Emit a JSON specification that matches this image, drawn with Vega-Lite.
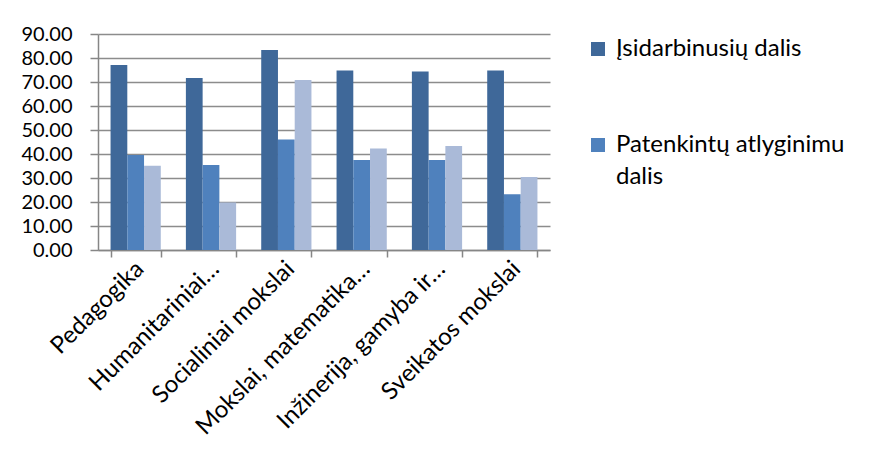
{
  "$schema": "https://vega.github.io/schema/vega-lite/v6.json",
  "width": 452,
  "height": 216,
  "autosize": {"type": "none"},
  "padding": {"left": 98, "top": 34, "right": 331, "bottom": 224},
  "background": "white",
  "data": {
    "values": [
      {"kategorija": "Pedagogika", "serija": "Įsidarbinusių dalis", "reiksme": 77.1},
      {"kategorija": "Pedagogika", "serija": "Patenkintų atlyginimu dalis", "reiksme": 39.6},
      {"kategorija": "Pedagogika", "serija": "Dirbančių pagal specialybę dalis", "reiksme": 35.1},
      {"kategorija": "Humanitariniai…", "serija": "Įsidarbinusių dalis", "reiksme": 71.7},
      {"kategorija": "Humanitariniai…", "serija": "Patenkintų atlyginimu dalis", "reiksme": 35.4},
      {"kategorija": "Humanitariniai…", "serija": "Dirbančių pagal specialybę dalis", "reiksme": 19.8},
      {"kategorija": "Socialiniai mokslai", "serija": "Įsidarbinusių dalis", "reiksme": 83.3},
      {"kategorija": "Socialiniai mokslai", "serija": "Patenkintų atlyginimu dalis", "reiksme": 46.0},
      {"kategorija": "Socialiniai mokslai", "serija": "Dirbančių pagal specialybę dalis", "reiksme": 70.8},
      {"kategorija": "Mokslai, matematika…", "serija": "Įsidarbinusių dalis", "reiksme": 74.8},
      {"kategorija": "Mokslai, matematika…", "serija": "Patenkintų atlyginimu dalis", "reiksme": 37.5},
      {"kategorija": "Mokslai, matematika…", "serija": "Dirbančių pagal specialybę dalis", "reiksme": 42.3},
      {"kategorija": "Inžinerija, gamyba ir…", "serija": "Įsidarbinusių dalis", "reiksme": 74.4},
      {"kategorija": "Inžinerija, gamyba ir…", "serija": "Patenkintų atlyginimu dalis", "reiksme": 37.5},
      {"kategorija": "Inžinerija, gamyba ir…", "serija": "Dirbančių pagal specialybę dalis", "reiksme": 43.3},
      {"kategorija": "Sveikatos mokslai", "serija": "Įsidarbinusių dalis", "reiksme": 74.8},
      {"kategorija": "Sveikatos mokslai", "serija": "Patenkintų atlyginimu dalis", "reiksme": 23.2},
      {"kategorija": "Sveikatos mokslai", "serija": "Dirbančių pagal specialybę dalis", "reiksme": 30.4}
    ]
  },
  "mark": {"type": "bar"},
  "encoding": {
    "x": {
      "field": "kategorija",
      "type": "nominal",
      "sort": null,
      "scale": {"paddingInner": 0.3333, "paddingOuter": 0.1667},
      "axis": {
        "title": null,
        "labelAngle": -45,
        "labelAlign": "right",
        "labelBaseline": "middle",
        "labelFont": "Lato",
        "labelFontSize": 24,
        "labelColor": "#000000",
        "labelPadding": 8,
        "labelOffset": 4,
        "labelLimit": 300,
        "tickBand": "extent",
        "tickSize": 7,
        "tickColor": "#868686",
        "tickWidth": 1.5,
        "domainColor": "#868686",
        "domainWidth": 1.5,
        "grid": false
      }
    },
    "xOffset": {
      "field": "serija",
      "type": "nominal",
      "sort": ["Įsidarbinusių dalis", "Patenkintų atlyginimu dalis", "Dirbančių pagal specialybę dalis"],
      "scale": {"paddingInner": 0, "paddingOuter": 0}
    },
    "y": {
      "field": "reiksme",
      "type": "quantitative",
      "scale": {"domain": [0, 90], "nice": false},
      "axis": {
        "title": null,
        "values": [0, 10, 20, 30, 40, 50, 60, 70, 80, 90],
        "format": ".2f",
        "labelFont": "Lato",
        "labelFontSize": 20,
        "labelColor": "#000000",
        "labelPadding": 18,
        "tickSize": 8,
        "tickColor": "#868686",
        "tickWidth": 1.5,
        "domainColor": "#868686",
        "domainWidth": 1.5,
        "grid": true,
        "gridColor": "#8c8c8c",
        "gridWidth": 1.5
      }
    },
    "color": {
      "field": "serija",
      "type": "nominal",
      "scale": {
        "domain": ["Įsidarbinusių dalis", "Patenkintų atlyginimu dalis", "Dirbančių pagal specialybę dalis"],
        "range": ["#3f6899", "#4f81bd", "#aabad8"]
      },
      "legend": {
        "title": null,
        "values": ["Įsidarbinusių dalis", "Patenkintų atlyginimu dalis"],
        "orient": "none",
        "legendX": 488,
        "legendY": 3,
        "padding": 0,
        "symbolType": "square",
        "symbolSize": 196,
        "symbolStrokeWidth": 0,
        "labelFont": "Lato",
        "labelFontSize": 24,
        "labelColor": "#000000",
        "labelOffset": 6,
        "labelLimit": 400,
        "labelBaseline": "middle",
        "rowPadding": 72,
        "labelExpr": "datum.label == 'Patenkintų atlyginimu dalis' ? ['Patenkintų atlyginimu', 'dalis'] : datum.label"
      }
    }
  },
  "config": {
    "view": {"stroke": null},
    "style": {"guide-label": {"lineHeight": 32}}
  }
}
